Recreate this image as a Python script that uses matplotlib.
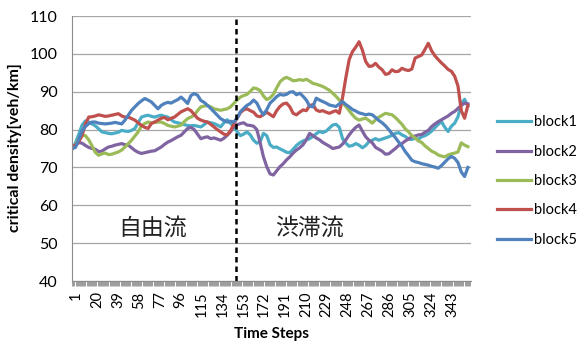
import numpy as np
import matplotlib as mpl
mpl.use('Agg')
import matplotlib.pyplot as plt
from matplotlib.transforms import ScaledTranslation

plt.rcParams['font.family'] = ['Lato', 'DejaVu Sans']

# time steps (values read every 3 steps)
steps = np.arange(1, 362, 3)

block1 = [75.0, 76.5, 78.8, 81.2, 82.3, 82.0, 81.5, 81.0, 80.2, 79.4,
          79.2, 79.0, 78.9, 79.1, 79.3, 79.8, 79.6, 79.5, 79.8, 80.3,
          81.8, 83.3, 83.6, 83.8, 83.5, 83.3, 83.6, 83.8, 83.5, 83.3,
          82.6, 82.0, 81.8, 81.6, 81.3, 81.1, 81.0, 81.1, 80.9, 80.7,
          81.3, 82.0, 81.8, 81.6, 81.2, 80.7, 81.8, 82.6, 81.6, 81.0,
          79.4, 78.4, 78.8, 79.4, 78.6, 77.2, 76.4, 76.8, 79.0, 78.4,
          76.0, 75.3, 75.4, 74.9, 74.5, 74.0, 73.9, 74.8, 75.8, 76.5,
          77.0, 77.3, 77.6, 78.2, 78.9, 79.5, 79.2, 79.6, 80.4, 81.2,
          81.4, 80.6, 77.6, 76.4, 75.6, 75.8, 76.3, 75.9, 75.2, 75.8,
          76.8, 77.2, 77.6, 77.2, 77.5, 77.8, 78.1, 78.5, 79.0, 79.2,
          78.6, 78.2, 77.5, 77.4, 77.7, 77.5, 78.1, 78.4, 78.9, 79.6,
          80.5, 81.4, 82.1, 80.6, 79.5, 80.9, 81.7, 83.4, 86.8, 88.0,
          86.2]
block2 = [75.0, 75.8, 76.6, 76.4, 75.8, 75.3, 75.0, 74.8, 74.2, 74.3,
          74.9, 75.4, 75.6, 75.9, 76.1, 76.3, 76.0, 75.9, 75.2, 74.5,
          74.0, 73.7, 73.9, 74.1, 74.3, 74.4, 74.9, 75.4, 76.1, 76.7,
          77.1, 77.6, 78.1, 78.5, 79.4, 80.3, 80.6, 80.0, 78.8, 77.6,
          77.9, 78.1, 77.6, 77.8, 77.5, 77.2, 77.7, 78.5, 79.4, 80.8,
          81.3, 81.6, 81.8, 81.2, 81.1, 80.9, 80.0, 76.5, 72.8, 70.2,
          68.3, 68.0, 69.1, 70.2, 71.0, 72.0, 72.8, 73.8, 74.6, 75.2,
          76.0, 77.3, 79.0, 78.4, 77.8, 77.3, 76.6, 76.1, 75.6, 75.0,
          75.2, 75.4, 76.2, 77.3, 78.6, 79.7, 80.6, 81.2, 79.6, 78.1,
          77.2, 76.5, 75.3, 74.8, 74.3, 73.5, 73.6, 74.3, 75.0, 75.8,
          76.3, 77.0, 77.5, 78.1, 78.3, 78.6, 78.7, 79.3, 79.8, 80.8,
          81.5, 82.1, 82.6, 83.1, 83.6, 84.3, 84.8, 85.6, 86.4, 87.0,
          86.8]
block3 = [75.0, 76.0, 77.6, 78.5, 78.4, 77.3, 75.7, 74.0, 73.2, 73.6,
          73.8, 73.4, 73.5, 73.8, 74.1, 74.6, 75.4, 76.3, 77.2, 78.3,
          79.4, 81.0, 81.6, 82.0, 81.8, 81.9, 82.0, 82.0, 81.6, 81.1,
          80.9, 80.7, 80.9, 81.2, 82.1, 82.9, 83.3, 83.8, 85.0, 86.0,
          86.2, 86.4, 86.0, 85.5, 85.3, 85.1, 85.3, 85.5, 86.0, 86.9,
          87.8, 88.6, 89.0, 89.3, 90.1, 91.0, 90.8, 90.3, 88.9, 87.9,
          88.4, 89.3, 91.0, 92.6, 93.4, 93.8, 93.4, 92.9, 93.0, 93.2,
          93.0, 93.3, 92.8, 92.2, 92.0, 91.7, 91.4, 90.9, 90.4, 89.6,
          88.8, 87.8, 87.0, 86.1, 85.0, 83.9, 83.0, 82.5, 82.8, 83.0,
          82.4, 81.7, 82.6, 83.3, 83.8, 84.3, 84.1, 83.9, 83.2, 82.3,
          81.4, 80.2, 79.4, 78.4, 77.8, 77.0, 76.6, 75.7, 75.0, 74.3,
          73.9, 73.3, 73.0, 72.8, 73.3, 73.6, 73.8, 74.1, 76.5, 75.9,
          75.5]
block4 = [75.5, 75.9, 76.8, 78.5, 81.5, 83.3, 83.4, 83.6, 83.9, 83.7,
          83.5, 83.6, 83.8, 84.0, 84.2, 83.6, 83.3, 83.3, 82.9, 82.5,
          81.8, 81.1, 80.6, 80.3, 81.6, 82.0, 82.5, 83.0, 83.2, 82.6,
          83.0, 83.3, 84.0, 84.7, 85.1, 85.5, 85.0, 84.0, 83.0, 82.5,
          82.2, 82.0, 81.4, 80.7, 80.0, 79.4, 78.8, 78.6, 79.7, 81.5,
          83.0, 84.5, 85.2, 85.5, 85.0, 84.6, 83.6, 83.4, 84.0, 84.6,
          84.0, 83.4, 85.0, 86.1, 86.8, 87.0, 86.0, 84.3, 83.9, 84.6,
          85.2, 85.0, 86.3, 86.6, 85.2, 84.8, 85.0, 84.6, 84.3, 84.7,
          85.0, 84.3, 88.5, 93.8, 98.5, 100.6, 101.8, 103.2, 101.0, 98.0,
          96.7, 96.8, 97.5, 96.5, 95.8, 94.6, 94.8, 95.8, 95.3, 95.4,
          96.2, 95.8, 95.6, 96.0, 98.9, 99.3, 99.7, 101.2, 102.8, 100.8,
          99.5, 98.5, 97.6, 96.8, 95.9, 95.4, 94.1, 91.5, 85.0, 83.0,
          86.4]
block5 = [75.0, 75.3, 77.5, 79.6, 80.8, 81.6, 82.0, 82.0, 81.7, 81.6,
          81.5, 81.6, 81.7, 81.9, 81.7, 81.5, 82.5, 83.8, 85.1, 86.0,
          86.9, 87.6, 88.2, 87.8, 87.3, 86.4, 85.5, 86.4, 86.9, 87.2,
          87.0, 87.5, 87.9, 88.6, 87.8, 86.9, 89.0, 89.5, 89.1, 87.7,
          87.2, 86.4, 85.6, 84.7, 83.8, 82.9, 82.4, 82.0, 82.2, 82.0,
          83.0, 84.7, 85.6, 86.4, 86.9, 87.8, 87.0, 85.2, 83.9, 85.3,
          87.0, 87.8, 88.7, 89.3, 89.1, 89.3, 89.9, 90.0, 89.2, 89.6,
          88.8, 87.8, 86.2, 86.0, 88.3, 87.8, 87.4, 87.0, 86.5, 86.3,
          86.1, 86.8, 87.4, 86.6, 86.0, 85.3, 84.9, 84.4, 84.2, 83.9,
          84.1, 83.9, 83.2, 82.4, 81.8, 81.0, 80.0, 78.9, 77.9, 76.7,
          75.6, 74.2, 73.1, 71.9, 71.5, 71.3, 71.0, 70.8, 70.6, 70.3,
          70.1, 69.8, 70.5, 71.4, 72.3, 72.9, 72.4, 71.3, 68.8, 67.6,
          70.0]

names = ['block1', 'block2', 'block3', 'block4', 'block5']
colors = ['#4BACC6', '#8064A2', '#9BBB59', '#C0504D', '#4F81BD']
xtick_steps = list(range(1, 344, 19))
change_step = 150
region_labels = ['自由流', '渋滞流']
region_x = [74, 217]
region_y = 54

fig = plt.figure(figsize=(5.79, 3.44), dpi=100)
ax = fig.add_axes([0.1238, 0.1831, 0.6896, 0.7703])

for vals, name, c in zip([block1, block2, block3, block4, block5], names, colors):
    ax.plot(steps, vals, color=c, lw=2.3, label=name, solid_joinstyle='round')

ax.axvline(change_step, color='black', lw=1.8, ls=(0, (2.2, 1.6)))

for t, x in zip(region_labels, region_x):
    ax.text(x, region_y, t, ha='center', va='center', fontsize=16.5,
            color='#222222', family=['Noto Sans CJK JP', 'DejaVu Sans'])

ax.set_xlim(0.5, 363.8)
ax.set_ylim(40, 110)
ax.set_yticks(range(40, 111, 10))
ax.yaxis.grid(True, color='#a6a6a6', lw=0.9)
ax.set_axisbelow(True)

ax.set_xticks(xtick_steps)
ax.set_xticklabels([str(s) for s in xtick_steps], rotation=90)
ax.set_xticks(np.arange(1, 364), minor=True)
ax.tick_params(axis='x', which='both', length=3.5, width=0.6, color='#8c8c8c',
               labelsize=10.5, pad=4)
ax.tick_params(axis='y', length=0, labelsize=11.5, pad=10)
offset = ScaledTranslation(4 / 100, 0, fig.dpi_scale_trans)
for lab in ax.get_xticklabels():
    lab.set_transform(lab.get_transform() + offset)

for s in ['top', 'right']:
    ax.spines[s].set_visible(False)
for s in ['left', 'bottom']:
    ax.spines[s].set_color('#8c8c8c')

fig.text(271 / 579, 1 - 334 / 344, 'Time Steps', ha='center', va='center',
         fontsize=11, fontweight='bold')
fig.text(15 / 579, 1 - 148 / 344, 'critical density[veh/km]', ha='center',
         va='center', rotation=90, fontsize=11.5, fontweight='bold')

ax.legend(loc='center left', bbox_to_anchor=(497 / 579, 1 - 181 / 344),
          bbox_transform=fig.transFigure, frameon=False, fontsize=10.5,
          handlelength=2.3, handletextpad=0.25, labelspacing=1.05,
          borderpad=0, borderaxespad=0)

fig.savefig('out.png', dpi=100)
